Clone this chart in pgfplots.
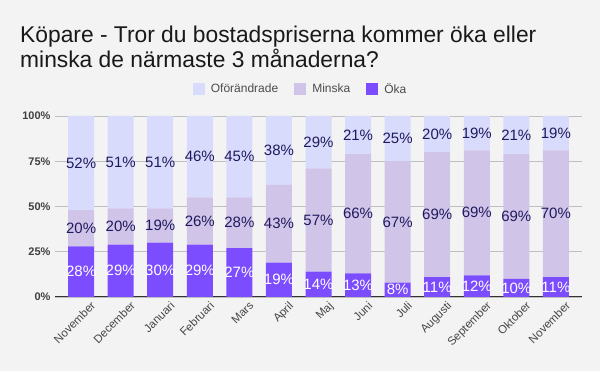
\documentclass[border=0pt]{standalone}
\usepackage{pgfplots}
\pgfplotsset{compat=1.18}
\usepackage{pgfplotstable}
\usepackage{fontspec}
\setmainfont{Liberation Sans}
\definecolor{bg}{HTML}{F3F3F3}
\definecolor{oka}{HTML}{7C4DFF}
\definecolor{minska}{HTML}{D1C4E9}
\definecolor{ofor}{HTML}{D9DBFC}
\definecolor{lbl}{HTML}{1F1A5C}
\definecolor{grid}{HTML}{B7B7B7}
\pgfplotstableread{
x oka min ofo ofoL
0 28 20 52 52
1 29 20 51 51
2 30 19 51 51
3 29 26 45 46
4 27 28 45 45
5 19 43 38 38
6 14 57 29 29
7 13 66 21 21
8 8 67 25 25
9 11 69 20 20
10 12 69 19 19
11 10 69 21 21
12 11 70 19 19
}\data
\begin{document}
\begin{tikzpicture}[x=1pt,y=1pt]
\path[fill=bg,use as bounding box] (0,0) rectangle (600,371);
\node[anchor=base west,inner sep=0,font=\fontsize{22.8}{25}\selectfont,text=black!90] at (20,328) {Köpare - Tror du bostadspriserna kommer öka eller};
\node[anchor=base west,inner sep=0,font=\fontsize{22.8}{25}\selectfont,text=black!90] at (20,303) {minska de närmaste 3 månaderna?};
\begin{axis}[
  at={(55pt,74pt)}, anchor=south west,
  scale only axis, width=527pt, height=181pt,
  ybar stacked, bar width=26pt,
  xmin=-0.66, xmax=12.66, ymin=0, ymax=100,
  axis line style={draw=none},
  ymajorgrids, grid style={grid, line width=0.8pt},
  ytick={0,25,50,75,100},
  yticklabel={\pgfmathprintnumber{\tick}\%},
  yticklabel style={font=\fontsize{11}{12}\selectfont\bfseries, text=black!75, xshift=-1pt},
  /pgf/number format/assume math mode=true,
  xtick={0,...,12},
  xticklabels={November,December,Januari,Februari,Mars,April,Maj,Juni,Juli,Augusti,September,Oktober,November},
  xticklabel style={rotate=45, anchor=north east, font=\fontsize{11.5}{13}\selectfont, text=black!72, inner sep=0pt, xshift=4pt, yshift=-9pt},
  major tick length=0pt,
  tick style={draw=none},
  legend style={at={(0.466,1.148)}, anchor=center, draw=none, fill=none, legend columns=3,
    font=\fontsize{12}{13}\selectfont, text=black!70,
    /tikz/every odd column/.append style={column sep=4pt},
    /tikz/every even column/.append style={column sep=14pt}},
  legend image code/.code={\fill[#1] (0pt,-6pt) rectangle (12pt,6pt);},
  reverse legend,
  nodes near coords,
  point meta=explicit,
  every node near coord/.append style={font=\fontsize{15}{16}\selectfont, anchor=center},
  nodes near coords={\pgfmathprintnumber{\pgfplotspointmeta}\%},
  clip=false,
]
\addplot[fill=oka, draw=none, every node near coord/.append style={text=white}] table[x=x,y=oka,meta=oka] {\data};
\addlegendentry{Öka}
\addplot[fill=minska, draw=none, every node near coord/.append style={text=lbl}] table[x=x,y=min,meta=min] {\data};
\addlegendentry{Minska}
\addplot[fill=ofor, draw=none, every node near coord/.append style={text=lbl}] table[x=x,y=ofo,meta=ofoL] {\data};
\addlegendentry{Oförändrade}
\draw[black!80, line width=1pt] (axis cs:-0.66,0) -- (axis cs:12.66,0);
\end{axis}
\end{tikzpicture}
\end{document}
